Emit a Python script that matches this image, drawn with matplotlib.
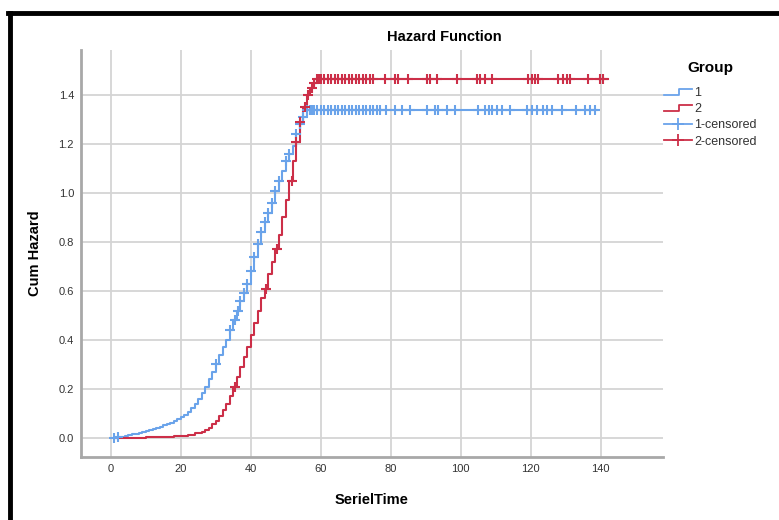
import numpy as np
import matplotlib.pyplot as plt
from matplotlib.lines import Line2D
from matplotlib.legend_handler import HandlerBase

plt.rcParams['font.family'] = ['Liberation Sans', 'DejaVu Sans']

# group 1: step times and cumulative hazard
t1 = [1, 2, 3, 4, 5, 6, 7, 8, 9, 10, 11, 12, 13, 14, 15, 16, 17, 18, 19,
      20, 21, 22, 23, 24, 25, 26, 27, 28, 29, 30, 31, 32, 33, 34, 35, 36, 37,
      38, 39, 40, 41, 42, 43, 44, 45, 46, 47, 48, 49, 50, 51, 52, 53, 54, 55,
      56, 139]
h1 = [0.0, 0.003, 0.006, 0.009, 0.012, 0.015, 0.018, 0.021, 0.025, 0.029,
      0.033, 0.037, 0.041, 0.046, 0.051, 0.057, 0.063, 0.069, 0.076,
      0.084, 0.095, 0.108, 0.122, 0.14, 0.16, 0.185, 0.21, 0.24, 0.27, 0.30,
      0.34, 0.37, 0.40, 0.44, 0.48, 0.52, 0.56, 0.59, 0.63, 0.68, 0.74, 0.79,
      0.84, 0.88, 0.92, 0.96, 1.01, 1.05, 1.09, 1.13, 1.16, 1.19, 1.24, 1.28,
      1.31, 1.339, 1.339]

# group 2
t2 = [1, 5, 10, 15, 18, 20, 22, 24, 26, 27, 28, 29, 30, 31, 32, 33, 34, 35,
      36, 37, 38, 39, 40, 41, 42, 43, 44, 45, 46, 47, 48, 49, 50, 51, 52, 53,
      54, 55, 56, 57, 58, 59, 142]
h2 = [0.0, 0.001, 0.003, 0.005, 0.007, 0.01, 0.014, 0.019, 0.026, 0.032,
      0.042, 0.055, 0.07, 0.09, 0.115, 0.14, 0.17, 0.21, 0.25, 0.29, 0.33,
      0.37, 0.42, 0.47, 0.52, 0.57, 0.61, 0.67, 0.72, 0.77, 0.83, 0.90, 0.97,
      1.05, 1.13, 1.21, 1.29, 1.35, 1.40, 1.43, 1.45, 1.465, 1.465]

# censored times
c1 = [1, 2, 30, 34, 35.5, 36.5, 37, 38, 39, 40, 41, 42, 43, 44, 45, 46, 47,
      48, 50, 51, 53, 54,
      55, 56, 57, 57.5, 58, 59, 60, 61, 62, 63, 64, 65, 66, 67, 68, 69, 70,
      71, 72, 73, 74, 75, 76, 77, 78.8, 81.2, 83.1, 85.5, 90.3, 92.6, 93.6,
      96, 98.4, 105, 107, 108, 108.9, 110.3, 111.7, 114.1, 118.9, 120.3,
      121.7, 123.6, 124.6, 126, 128.9, 133.1, 135.5, 136.9, 138.4]
c2 = [35.5, 44.5, 47.4, 51.7, 53, 54, 55.5, 56.5, 57.4,
      58, 59, 59.5, 60, 61, 62, 63, 64, 65, 66, 67, 68, 69, 70, 71, 72, 73,
      74, 75, 78.4, 81.2, 82.2, 85, 90.3, 91.2, 93.1, 98.9, 104.6, 105.4,
      106.9, 108.9, 119.3, 120.3, 121.2, 122.2, 127.9, 129.3, 130.3, 131.2,
      136.5, 139.8, 140.7]

blue = '#6aa3ea'
red = '#cc2f48'


def step_at(t, h, c):
    idx = np.searchsorted(t, c, side='right') - 1
    return np.array(h)[np.clip(idx, 0, len(h) - 1)]


class StepHandler(HandlerBase):
    def create_artists(self, legend, orig, xd, yd, w, h, fontsize, trans):
        xs = [xd, xd + w * 0.55, xd + w * 0.55, xd + w]
        ys = [yd + h * 0.15, yd + h * 0.15, yd + h * 0.8, yd + h * 0.8]
        ln = Line2D(xs, ys, color=orig.get_color(), lw=1.3, transform=trans)
        return [ln]


fig = plt.figure(figsize=(7.79, 5.2), dpi=100)
ax = fig.add_axes([0.104, 0.121, 0.747, 0.783])

l1, = ax.step(t1, h1, where='post', color=blue, lw=1.5)
l2, = ax.step(t2, h2, where='post', color=red, lw=1.5)
ax.plot(c1, step_at(t1, h1, c1), '+', color=blue, ms=7.5, mew=1.5)
ax.plot(c2, step_at(t2, h2, c2), '+', color=red, ms=7.5, mew=1.5)

ax.set_xlim(-8.5, 157.8)
ax.set_ylim(-0.078, 1.584)
ax.set_xticks(np.arange(0, 141, 20))
ax.set_yticks(np.arange(0, 1.41, 0.2))
ax.yaxis.set_major_formatter(plt.FuncFormatter(lambda v, p: '%.1f' % v))
ax.grid(True, color='#d4d4d4', lw=1.3)
ax.set_axisbelow(True)
for s in ['top', 'right']:
    ax.spines[s].set_visible(False)
for s in ['left', 'bottom']:
    ax.spines[s].set_color('#a8a8a8')
    ax.spines[s].set_linewidth(2)
ax.tick_params(length=0, labelsize=8, labelcolor='#333333', pad=5)

ax.set_xlabel('SerielTime', fontsize=10.5, fontweight='bold', labelpad=14)
ax.set_ylabel('Cum Hazard', fontsize=10.5, fontweight='bold', labelpad=12)
fig.text(0.571, 0.928, 'Hazard Function', fontsize=10.5, fontweight='bold',
         ha='center', va='center')

p1 = Line2D([], [], color=blue, lw=1.3, marker='+', ms=9, mew=1.3)
p2 = Line2D([], [], color=red, lw=1.3, marker='+', ms=9, mew=1.3)
leg = fig.legend([l1, l2, p1, p2], ['1', '2', '1-censored', '2-censored'],
                 handler_map={l1: StepHandler(), l2: StepHandler()},
                 loc='upper left', bbox_to_anchor=(0.838, 0.905),
                 frameon=False, fontsize=9, title='Group', numpoints=1,
                 title_fontproperties={'weight': 'bold', 'size': 11},
                 handlelength=2.2, handletextpad=0.2, labelspacing=0.33)
leg._legend_box.sep = 9
for t in leg.get_texts():
    t.set_color('#333333')

# black frame from the screenshot
fig.add_artist(Line2D([10 / 779, 10 / 779], [0, 1 - 13 / 520], color='black',
                      lw=3.5, transform=fig.transFigure))
fig.add_artist(Line2D([8 / 779, 1], [1 - 13 / 520, 1 - 13 / 520],
                      color='black', lw=3.5, transform=fig.transFigure))

fig.savefig('out.png', dpi=100)
